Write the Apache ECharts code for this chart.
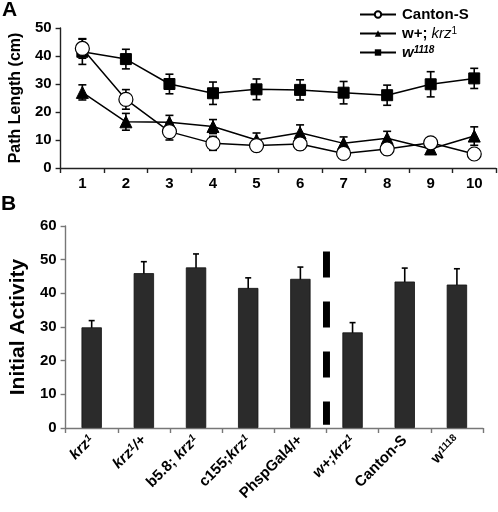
<!DOCTYPE html>
<html><head><meta charset="utf-8">
<script src="https://cdn.jsdelivr.net/npm/echarts@6/dist/echarts.min.js"></script>
<style>html,body{margin:0;padding:0;background:#fff}#c{width:498px;height:512px}</style>
</head><body><div id="c"></div>
<script>
const trials = ['1','2','3','4','5','6','7','8','9','10'];
const cantonS = [42.7,24.5,13,8.8,8,8.6,5.2,6.8,9,5];
const cantonSErr = [3.5,3.5,3,2.5,2,2,1.5,2,1.5,1.5];
const wKrz = [27,16.5,16.3,14.8,10,12.6,8.8,10.6,6.8,11.4];
const wKrzErr = [2.7,3,2.5,2.5,2.5,2.8,2.3,2.5,1.5,3.3];
const w1118 = [41.5,38.9,30,26.7,28.1,27.9,26.9,26,29.9,32];
const w1118Err = [4.5,3.5,3.5,4,3.7,3.6,4,3.6,4.5,3.6];
const genotypes = ['krz1','krz1/+','b5.8; krz1','c155;krz1','PhspGal4/+','w+;krz1','Canton-S','w1118'];
const activity = [29.9,46,47.7,41.6,44.3,28.4,43.5,42.6];
const activityErr = [2,3.4,4,3,3.5,2.9,4,4.7];
const yTicksA = [0,10,20,30,40,50];
const yTicksB = [0,10,20,30,40,50,60];

const FF = 'Liberation Sans, Arial, sans-serif';
const chart = echarts.init(document.getElementById('c'), null, {renderer:'canvas'});

function errData(vals, errs){ return vals.map((v,i)=>[i, v-errs[i], v+errs[i]]); }
function errSeries(data, xi, yi, cap){
  return {
    type:'custom', xAxisIndex:xi, yAxisIndex:yi, z:1, silent:true,
    data:data,
    renderItem:function(params, api){
      const x = api.value(0);
      const lo = api.coord([x, api.value(1)]);
      const hi = api.coord([x, api.value(2)]);
      const st = {stroke:'#000', lineWidth:1.6};
      return {type:'group', children:[
        {type:'line', shape:{x1:lo[0],y1:lo[1],x2:hi[0],y2:hi[1]}, style:st},
        {type:'line', shape:{x1:lo[0]-cap,y1:lo[1],x2:lo[0]+cap,y2:lo[1]}, style:st},
        {type:'line', shape:{x1:hi[0]-cap,y1:hi[1],x2:hi[0]+cap,y2:hi[1]}, style:st}
      ]};
    }
  };
}

const rich = {
  b:{fontFamily:FF, fontWeight:'bold', fontSize:15, color:'#000'},
  bi:{fontFamily:FF, fontWeight:'bold', fontStyle:'italic', fontSize:15, color:'#000'},
  s:{fontFamily:FF, fontWeight:'bold', fontSize:10, color:'#000', verticalAlign:'top'},
  si:{fontFamily:FF, fontWeight:'bold', fontStyle:'italic', fontSize:10, color:'#000', verticalAlign:'top'}
};
const legendRich = {
  b:{fontFamily:FF, fontWeight:'bold', fontSize:15, color:'#000'},
  i:{fontFamily:FF, fontStyle:'italic', fontSize:15, color:'#000'},
  bi:{fontFamily:FF, fontWeight:'bold', fontStyle:'italic', fontSize:15, color:'#000'},
  s:{fontFamily:FF, fontSize:10, color:'#000', verticalAlign:'top'},
  si:{fontFamily:FF, fontWeight:'bold', fontStyle:'italic', fontSize:10, color:'#000', verticalAlign:'top'}
};
const legendFmt = {
  'Canton-S':'{b|Canton-S}',
  'w+; krz1':'{b|w+; }{i|krz}{s|1}',
  'w1118':'{bi|w}{si|1118}'
};
const xLabFmt = [
  '{bi|krz}{si|1}',
  '{bi|krz}{si|1}{bi|/+}',
  '{b|b5.8; }{bi|krz}{si|1}',
  '{b|c155;}{bi|krz}{si|1}',
  '{b|PhspGal4/+}',
  '{bi|w+;krz}{si|1}',
  '{b|Canton-S}',
  '{b|w}{s|1118}'
];

const option = {
  animation:false,
  backgroundColor:'#fff',
  graphic:[
    {type:'text', left:2, top:0, style:{text:'A', font:'bold 21px '+FF, fill:'#000'}},
    {type:'text', left:1, top:194, style:{text:'B', font:'bold 21px '+FF, fill:'#000'}}
  ],
  legend:{
    orient:'vertical', left:354, top:2, itemWidth:36, itemHeight:8, itemGap:4,
    data:['Canton-S','w+; krz1','w1118'],
    formatter:function(n){return legendFmt[n];},
    textStyle:{rich:legendRich, padding:[0,0,0,1]},
    inactiveColor:'#000'
  },
  grid:[
    {left:56, right:2, top:28, bottom:344, containLabel:false},
    {left:55, right:15, top:226, bottom:84, containLabel:false}
  ],
  xAxis:[
    {type:'category', gridIndex:0, data:trials, boundaryGap:true,
     axisLine:{onZero:false, lineStyle:{color:'#222', width:1.4}},
     axisTick:{show:true, interval:0, length:5, lineStyle:{color:'#222', width:1.4}},
     axisLabel:{interval:0, margin:8, fontFamily:FF, fontWeight:'bold', fontSize:15, color:'#000'}},
    {type:'category', gridIndex:1, data:genotypes, boundaryGap:true,
     axisLine:{onZero:false, lineStyle:{color:'#777', width:1.4}},
     axisTick:{show:true, interval:0, length:5, lineStyle:{color:'#777', width:1.4}},
     axisLabel:{interval:0, rotate:45, margin:10,
       formatter:function(v, i){return xLabFmt[i];}, rich:rich}},
    {type:'value', gridIndex:1, min:-0.5, max:7.5, show:false}
  ],
  yAxis:[
    {type:'value', gridIndex:0, min:0, max:50, interval:10,
     name:'Path Length (cm)', nameLocation:'middle', nameGap:32,
     nameTextStyle:{fontFamily:FF, fontWeight:'bold', fontSize:16, color:'#000'},
     axisLine:{show:true, onZero:false, lineStyle:{color:'#222', width:1.4}},
     axisTick:{show:true, length:5, lineStyle:{color:'#222', width:1.4}},
     splitLine:{show:false},
     axisLabel:{margin:9, fontFamily:FF, fontWeight:'bold', fontSize:15, color:'#000',
       formatter:function(v){return yTicksA.indexOf(v)>=0 ? String(v) : '';}}},
    {type:'value', gridIndex:1, min:0, max:60, interval:10,
     name:'Initial Activity', nameLocation:'middle', nameGap:36,
     nameTextStyle:{fontFamily:FF, fontWeight:'bold', fontSize:21, color:'#000'},
     axisLine:{show:true, onZero:false, lineStyle:{color:'#777', width:1.4}},
     axisTick:{show:true, length:5, lineStyle:{color:'#777', width:1.4}},
     splitLine:{show:false},
     axisLabel:{margin:9, fontFamily:FF, fontWeight:'bold', fontSize:15, color:'#000',
       formatter:function(v){return yTicksB.indexOf(v)>=0 ? String(v) : '';}}}
  ],
  series:[
    errSeries(errData(w1118, w1118Err), 0, 0, 4),
    errSeries(errData(wKrz, wKrzErr), 0, 0, 4),
    errSeries(errData(cantonS, cantonSErr), 0, 0, 4),
    {name:'w1118', type:'line', xAxisIndex:0, yAxisIndex:0, data:w1118, z:3,
     symbol:'rect', symbolSize:11, lineStyle:{color:'#000', width:1.5},
     itemStyle:{color:'#000', borderColor:'#000'}},
    {name:'w+; krz1', type:'line', xAxisIndex:0, yAxisIndex:0, data:wKrz, z:3,
     symbol:'triangle', symbolSize:12, lineStyle:{color:'#000', width:1.5},
     itemStyle:{color:'#000', borderColor:'#000'}},
    {name:'Canton-S', type:'line', xAxisIndex:0, yAxisIndex:0, data:cantonS, z:4,
     symbol:'circle', symbolSize:14, lineStyle:{color:'#000', width:1.5},
     itemStyle:{color:'#fff', borderColor:'#000', borderWidth:1.2}},
    {type:'bar', xAxisIndex:1, yAxisIndex:1, data:activity, barWidth:'39%', z:2,
     itemStyle:{color:'#2b2b2b', borderColor:'#111', borderWidth:0.8}},
    errSeries(errData(activity, activityErr), 1, 1, 3),
    {type:'line', xAxisIndex:2, yAxisIndex:1, data:[[4.5,52.4],[4.5,1]], symbol:'none', z:5,
     lineStyle:{color:'#000', width:7, type:[26,24], cap:'butt'}}
  ]
};
chart.setOption(option);
</script>
</body></html>
